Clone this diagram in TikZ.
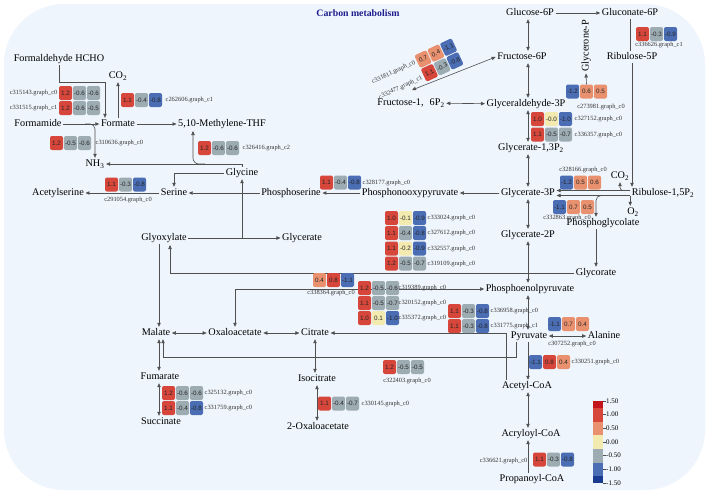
\documentclass[tikz,border=0pt]{standalone}
\usepackage{fontspec}
\setmainfont{Liberation Serif}
\newfontfamily\cellfont{Liberation Sans}
\usepackage{tikz}
\usetikzlibrary{arrows.meta}
\definecolor{bgblue}{HTML}{EEF5FC}
\definecolor{linegray}{HTML}{505050}
\definecolor{titleblue}{HTML}{1C1C8C}
\definecolor{hired}{HTML}{D6463A}
\definecolor{salmon}{HTML}{E9916F}
\definecolor{paleyel}{HTML}{F3EAB0}
\definecolor{slate}{HTML}{9DABB3}
\definecolor{lowblue}{HTML}{4A6DB3}
\definecolor{deepred}{HTML}{C2161C}
\definecolor{deepblue}{HTML}{183B91}
\tikzset{
  met/.style={font=\fontsize{10.2}{12}\selectfont, inner sep=1.5pt,
              text height=7pt, text depth=2pt},
  gene/.style={font=\fontsize{6.4}{7}\selectfont, inner sep=.5pt, text=black!80},
  cell/.style={minimum width=13pt, minimum height=14pt, inner sep=0pt,
               rounded corners=2pt, text=black!85,
               font=\cellfont\fontsize{6.3}{7}\selectfont},
  cred/.style={cell, fill=hired},
  csal/.style={cell, fill=salmon},
  cyel/.style={cell, fill=paleyel},
  cgry/.style={cell, fill=slate},
  cblu/.style={cell, fill=lowblue},
  plain/.style={line width=.6pt, draw=linegray},
  arr/.style={plain, -{Triangle[length=4pt,width=3.4pt]}},
  darr/.style={plain, {Triangle[length=4pt,width=3.4pt]}-{Triangle[length=4pt,width=3.4pt]}},
  barlbl/.style={font=\fontsize{7}{8}\selectfont, inner sep=.5pt, anchor=west}
}
% one row of heat cells: name, x of first cell, y, value/style list
\newcommand{\heatrow}[4]{%
  \foreach \v/\s [count=\i from 0] in {#4}
    \node[\s] (#1-\i) at ({#2+14*\i},#3) {\v};%
}
\begin{document}
\begin{tikzpicture}[x=1pt, y=-1pt]
  \useasboundingbox (0,0) rectangle (708,493);
  \fill[bgblue, rounded corners=60pt] (4,4) rectangle (705,490);
  \node[font=\bfseries\fontsize{9.8}{11}\selectfont, text=titleblue] (title) at (358,13) {Carbon metabolism};
  \coordinate (spine) at (528,0);

  % one-carbon corner
  \node[met] (hcho) at (59,59) {Formaldehyde HCHO};
  \node[met] (co2a) at (118,76) {CO\textsubscript{2}};
  \node[met] (fmd) at (38,124) {Formamide};
  \node[met] (fmt) at (118,124) {Formate};
  \node[met] (mthf) at (222,124) {5,10-Methylene-THF};
  \node[met] (nh3) at (95,164) {NH\textsubscript{3}};
  \node[met] (acs) at (58,193) {Acetylserine};
  \node[met] (ser) at (174,193) {Serine};
  \node[met] (gly) at (242,173) {Glycine};
  \node[met] (pser) at (291,193) {Phosphoserine};
  \node[met] (ppyr) at (410,193) {Phosphonooxypyruvate};
  \node[met] (glyox) at (164,238) {Glyoxylate};
  \node[met] (glyc) at (302,238) {Glycerate};

  % glycolysis spine
  \node[met] (g6p) at (530,13) {Glucose-6P};
  \node[met] (gn6p) at (630,13) {Gluconate-6P};
  \node[met] (f6p) at (522,57) {Fructose-6P};
  \node[met, rotate=90] (glyp) at (586,46) {Glycerone-P};
  \node[met] (ru5p) at (632,57) {Ribulose-5P};
  \node[met] (f16) at (411,103) {Fructose-1,\hspace{0.6em}6P\textsubscript{2}};
  \node[met] (gap) at (526,104) {Glyceraldehyde-3P};
  \node[met] (g13) at (531,148) {Glycerate-1,3P\textsubscript{2}};
  \node[met] (g3p) at (528,193) {Glycerate-3P};
  \node[met] (ru15) at (663,193) {Ribulose-1,5P\textsubscript{2}};
  \node[met] (co2b) at (620,176) {CO\textsubscript{2}};
  \node[met] (o2) at (633,212) {O\textsubscript{2}};
  \node[met] (pglc) at (603,223) {Phosphoglycolate};
  \node[met] (g2p) at (528,235) {Glycerate-2P};
  \node[met] (glco) at (596,273) {Glycorate};
  \node[met] (pep) at (530,289) {Phosphoenolpyruvate};
  \node[met] (pyr) at (529,336) {Pyruvate};
  \node[met] (ala) at (604,336) {Alanine};
  \node[met] (accoa) at (527,386) {Acetyl-CoA};
  \node[met] (acrl) at (531,434) {Acryloyl-CoA};
  \node[met] (prop) at (532,479) {Propanoyl-CoA};

  % TCA side
  \node[met] (mal) at (156,333) {Malate};
  \node[met] (oaa) at (235,333) {Oxaloacetate};
  \node[met] (cit) at (315,333) {Citrate};
  \node[met] (fum) at (160,377) {Fumarate};
  \node[met] (suc) at (161,422) {Succinate};
  \node[met] (icit) at (317,379) {Isocitrate};
  \node[met] (oxo) at (318,427) {2-Oxaloacetate};

  % branch points
  \coordinate (c-hf) at (105,82);
  \coordinate (c-fn) at (85,124);
  \coordinate (c-gm) at (205,164);
  \coordinate (c-mt) at (193,131);
  \coordinate (c-gg) at (242,238);
  \coordinate (c-gx) at (159,244);
  \coordinate (c-xg) at (170,245);
  \coordinate (c-f16) at (412,90);
  \coordinate (c-pm) at (163,357);
  \coordinate (c-co) at ([xshift=-5pt, yshift=2.5pt]ru15.west);
  \coordinate (c-oo) at ([yshift=-2.5pt]ru15.west);
  \coordinate (c-pg) at ([xshift=-26pt, yshift=-2.5pt]ru15.west);

  \draw[arr] (hcho.south) |- (c-hf) -- (c-hf |- fmt.north);
  \draw[arr] (fmt.north) -- (co2a.south);
  \draw[arr] (fmd) -- (fmt);
  \draw[arr, rounded corners=5pt] (c-fn) -| (nh3.north);
  \draw[arr] (fmt) -- (mthf);
  \draw[arr] (gly.north) |- (nh3.east);
  \draw[arr, rounded corners=6pt] (c-gm) -| (c-mt);
  \draw[arr] (gly.west) -| (ser.north);
  \draw[arr] (pser) -- (ser);
  \draw[arr] (ser) -- (acs);
  \draw[arr] (ppyr) -- (pser);
  \draw[arr] (g3p) -- (ppyr);
  \draw[arr] (glyox) -- (glyc);
  \draw[arr] (c-gg) -- (gly.south);
  \draw[arr] (c-gx) -- (c-gx |- mal.north);
  \draw[arr] (glco.west) -| (c-xg);
  \draw[arr] (pglc.south -| glco.north) -- (glco.north);

  \draw[arr] (g6p) -- (gn6p);
  \draw[plain] (gn6p.south) -- (gn6p.south |- ru5p.north);
  \draw[arr] (ru5p.south) -- (ru5p.south |- ru15.north);
  \draw[darr] (spine |- g6p.south) -- (spine |- f6p.north);
  \draw[darr] (spine |- f6p.south) -- (spine |- gap.north);
  \draw[darr] (spine |- gap.south) -- (spine |- g13.north);
  \draw[darr] (spine |- g13.south) -- (spine |- g3p.north);
  \draw[darr] (spine |- g3p.south) -- (spine |- g2p.north);
  \draw[darr] (spine |- g2p.south) -- (spine |- pep.north);
  \draw[darr] (spine |- pep.south) -- (spine |- pyr.north);
  \draw[arr] (spine |- pyr.south) -- (spine |- accoa.north);
  \draw[darr] (spine |- accoa.south) -- (spine |- acrl.north);
  \draw[arr] (spine |- prop.north) -- (spine |- acrl.south);
  \draw[darr] (f16) -- (gap);
  \draw[darr] (c-f16) -- (f6p.west);

  \draw[arr] ([yshift=2.5pt]ru15.west) -- ([yshift=2.5pt]g3p.east);
  \draw[arr] ([yshift=-2.5pt]ru15.west) -- ([yshift=-2.5pt]g3p.east);
  \draw[arr, rounded corners=3pt] (c-co) -| (co2b.south);
  \draw[arr] (c-oo) -- (c-oo |- o2.north);
  \draw[arr, rounded corners=5pt] (c-pg) -| (pglc.north -| glco.north);

  \draw[darr] (oaa.north) |- (pep.west);
  \draw[darr] (mal) -- (oaa);
  \draw[darr] (oaa) -- (cit);
  \draw[arr] ([xshift=6pt]accoa.north west) |- (cit.east);
  \draw[arr] ([xshift=7pt]pyr.south west) |- (c-pm) -- (c-pm |- mal.south);
  \draw[darr] ([xshift=-1pt]fum.north) -- ([xshift=-1pt]fum.north |- mal.south);
  \draw[darr] ([xshift=-1pt]fum.south) -- ([xshift=-1pt]fum.south |- suc.north);
  \draw[darr] (cit.south) -- (cit.south |- icit.north);
  \draw[darr] (icit.south) -- (icit.south |- oxo.north);
  \draw[darr] (pyr) -- (ala);

  % heat cells
  \heatrow{c315143}{65.5}{93}{1.2/cred,-0.6/cgry,-0.6/cgry}
  \heatrow{c331515}{65.5}{108}{1.2/cred,-0.6/cgry,-0.5/cgry}
  \heatrow{c262606}{127.5}{100}{1.1/cred,-0.4/cgry,-0.8/cblu}
  \heatrow{c310636}{56.5}{143}{1.2/cred,-0.5/cgry,-0.6/cgry}
  \heatrow{c326416}{204.5}{148}{1.2/cred,-0.6/cgry,-0.6/cgry}
  \heatrow{c291054}{111.5}{184.5}{1.1/cred,-0.3/cgry,-0.8/cblu}
  \heatrow{c328177}{326.5}{182.5}{1.1/cred,-0.4/cgry,-0.8/cblu}
  \heatrow{c333024}{391.5}{218}{1.0/cred,-0.1/cyel,-0.9/cblu}
  \heatrow{c327612}{391.5}{233}{1.1/cred,-0.4/cgry,-0.8/cblu}
  \heatrow{c332557}{391.5}{248.5}{1.1/cred,-0.2/cyel,-0.9/cblu}
  \heatrow{c319109}{391.5}{263.5}{1.2/cred,-0.5/cgry,-0.7/cgry}
  \heatrow{c338364}{319.5}{280}{0.4/csal,0.8/cred,-1.1/cblu}
  \heatrow{c319389}{364.5}{288}{1.2/cred,-0.5/cgry,-0.6/cgry}
  \heatrow{c320152}{364.5}{303}{1.1/cred,-0.5/cgry,-0.7/cgry}
  \heatrow{c335372}{364.5}{318}{1.0/cred,0.1/cyel,-1.0/cblu}
  \heatrow{c336958}{454.5}{311}{1.1/cred,-0.3/cgry,-0.8/cblu}
  \heatrow{c331775}{454.5}{326}{1.1/cred,-0.3/cgry,-0.8/cblu}
  \heatrow{c307252}{554.5}{324}{-1.1/cblu,0.7/csal,0.4/csal}
  \heatrow{c330251}{535.5}{362}{-1.1/cblu,0.8/cred,0.4/csal}
  \heatrow{c336621}{539.5}{459.5}{1.1/cred,-0.3/cgry,-0.8/cblu}
  \heatrow{c325132}{168.5}{393}{1.2/cred,-0.6/cgry,-0.6/cgry}
  \heatrow{c331759}{168.5}{408}{1.1/cred,-0.4/cgry,-0.8/cblu}
  \heatrow{c330145}{324.5}{403.5}{1.1/cred,-0.4/cgry,-0.7/cgry}
  \heatrow{c322403}{389.5}{367}{1.2/cred,-0.5/cgry,-0.5/cgry}
  \heatrow{c327152}{537.5}{119}{1.0/cred,-0.0/cyel,-1.0/cblu}
  \heatrow{c336357}{537.5}{134.5}{1.1/cred,-0.5/cgry,-0.7/cgry}
  \heatrow{c273981}{572.5}{91.5}{-1.2/cblu,0.6/csal,0.5/csal}
  \heatrow{c336626}{642.5}{34}{1.1/cred,-0.3/cgry,-0.9/cblu}
  \heatrow{c328166}{566.5}{182.5}{-1.2/cblu,0.5/csal,0.6/csal}
  \heatrow{c332863}{559.5}{207}{-1.1/cblu,0.7/csal,0.5/csal}
  \begin{scope}[shift={(439,60)}, rotate=25, transform shape]
    \heatrow{c331811}{-14}{-7.5}{0.7/csal,0.4/csal,-1.1/cblu}
    \heatrow{c332477}{-14}{7.5}{1.1/cred,-0.3/cgry,-0.8/cblu}
    \node[gene, anchor=east] (l-c331811) at (-22,-8) {c331811.graph\_c0};
    \node[gene, anchor=east] (l-c332477) at (-22,9) {c332477.graph\_c1};
  \end{scope}
  \draw[arr] (c273981-1.north) -- (glyp.west);

  % gene labels
  \node[gene, anchor=east] (l-c315143) at (58,93) {c315143.graph\_c0};
  \node[gene, anchor=east] (l-c331515) at (58,108) {c331515.graph\_c1};
  \node[gene, anchor=west] (l-c262606) at (165,100) {c262606.graph\_c1};
  \node[gene, anchor=west] (l-c310636) at (95,143) {c310636.graph\_c0};
  \node[gene, anchor=west] (l-c326416) at (242,148) {c326416.graph\_c2};
  \node[gene] (l-c291054) at (128,200) {c291054.graph\_c0};
  \node[gene, anchor=west] (l-c328177) at (362,183) {c328177.graph\_c0};
  \node[gene, anchor=west] (l-c333024) at (427,218) {c333024.graph\_c0};
  \node[gene, anchor=west] (l-c327612) at (427,233) {c327612.graph\_c0};
  \node[gene, anchor=west] (l-c332557) at (427,248.5) {c332557.graph\_c0};
  \node[gene, anchor=west] (l-c319109) at (427,263.5) {c319109.graph\_c0};
  \node[gene] (l-c338364) at (331,293) {c338364.graph\_c0};
  \node[gene, anchor=west] (l-c319389) at (398,288) {c319389.graph\_c0};
  \node[gene, anchor=west] (l-c320152) at (398,303) {c320152.graph\_c0};
  \node[gene, anchor=west] (l-c335372) at (398,318) {c335372.graph\_c0};
  \node[gene, anchor=west] (l-c336958) at (490,311) {c336958.graph\_c0};
  \node[gene, anchor=west] (l-c331775) at (490,326) {c331775.graph\_c1};
  \node[gene] (l-c307252) at (572,344) {c307252.graph\_c0};
  \node[gene, anchor=west] (l-c330251) at (571,362) {c330251.graph\_c0};
  \node[gene, anchor=east] (l-c336621) at (528,461) {c336621.graph\_c0};
  \node[gene, anchor=west] (l-c325132) at (204,393) {c325132.graph\_c0};
  \node[gene, anchor=west] (l-c331759) at (204,408) {c331759.graph\_c0};
  \node[gene, anchor=west] (l-c330145) at (361,403.5) {c330145.graph\_c0};
  \node[gene] (l-c322403) at (407,381) {c322403.graph\_c0};
  \node[gene, anchor=west] (l-c327152) at (574,119) {c327152.graph\_c0};
  \node[gene, anchor=west] (l-c336357) at (574,134.5) {c336357.graph\_c0};
  \node[gene] (l-c273981) at (601,107) {c273981.graph\_c0};
  \node[gene] (l-c336626) at (659,45) {c336626.graph\_c1};
  \node[gene] (l-c328166) at (583,170) {c328166.graph\_c0};
  \node[gene] (l-c332863) at (567,218) {c332863.graph\_c0};

  % colour scale
  \foreach \c/\a/\b in {deepred/401/408, hired/408/421.7, salmon/421.7/435.3,
      paleyel/435.3/449, slate/449/462.7, lowblue/462.7/476.3, deepblue/476.3/483}
    \fill[\c] (593,\a) rectangle (603,\b);
  \foreach \t [count=\k from 0] in {1.50,1.00,0.50,0.00,-0.50,-1.00,-1.50} {
    \draw[linegray, line width=.4pt] (603,{401+13.67*\k}) -- (605.5,{401+13.67*\k});
    \node[barlbl] (bar\k) at (605.5,{401+13.67*\k}) {\t};
  }
\end{tikzpicture}
\end{document}
